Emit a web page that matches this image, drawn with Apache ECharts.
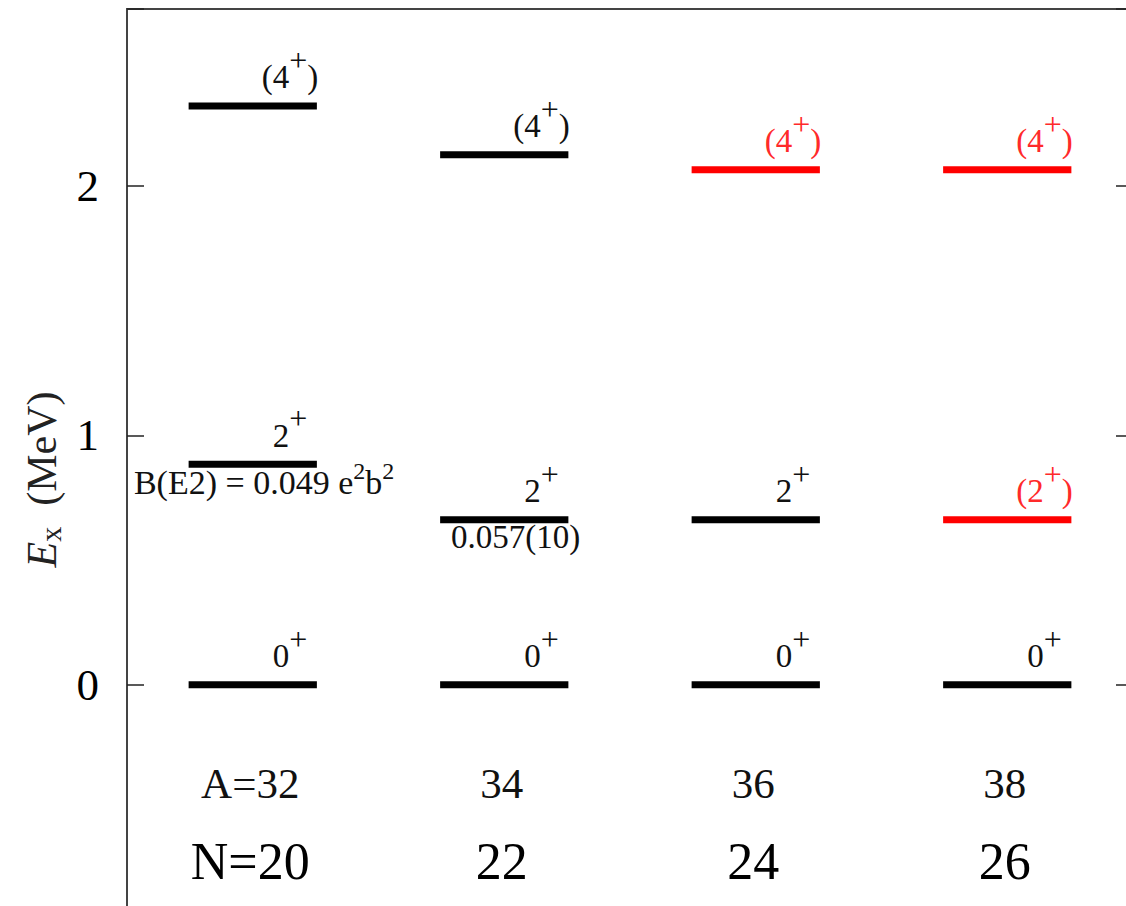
<!DOCTYPE html>
<html><head><meta charset="utf-8">
<script src="https://cdn.jsdelivr.net/npm/echarts@6/dist/echarts.min.js"></script>
<style>html,body{margin:0;padding:0;background:#fff}#c{width:1126px;height:906px}</style>
</head><body><div id="c"></div>
<script>
// ---- data ----
const massLabels = ['A=32', '34', '36', '38'];
const neutronLabels = ['N=20', '22', '24', '26'];
const groundEnergy = [0, 0, 0, 0];
const first2Energy = [0.884, 0.661, 0.661, 0.661];
const first4Energy = [2.321, 2.125, 2.065, 2.065];
const groundSpin = ['0+', '0+', '0+', '0+'];
const first2Spin = ['2+', '2+', '2+', '(2+)'];
const first4Spin = ['(4+)', '(4+)', '(4+)', '(4+)'];
const first2New = [false, false, false, true];
const first4New = [false, false, true, true];
const be2Labels = ['B(E2) = 0.049 e^2b^2', '0.057(10)', '', ''];
const yTicks = [0, 1, 2];

// ---- style constants ----
const FONT = 'Liberation Serif';
const BLACK = '#000000', RED = '#ff0000';
const TXT_BLACK = '#111111', TXT_RED = '#ff2a2a';
const HALF = 0.255;

const levels = [];
massLabels.forEach((m, i) => {
  levels.push({ x: i + 1, e: groundEnergy[i], spin: groundSpin[i], red: false, be2: '' });
  levels.push({ x: i + 1, e: first2Energy[i], spin: first2Spin[i], red: first2New[i], be2: be2Labels[i] });
  levels.push({ x: i + 1, e: first4Energy[i], spin: first4Spin[i], red: first4New[i], be2: '' });
});

function spinRich(s) {
  return s.split('+').map((p, k, arr) => (p ? '{b|' + p + '}' : '') + (k < arr.length - 1 ? '{s|+}' : '')).join('');
}
function be2Rich(s) {
  return s.split('^2').map((p, k, arr) => (p ? '{b|' + p + '}' : '') + (k < arr.length - 1 ? '{s|2}' : '')).join('');
}

function renderLevel(params, api) {
  const lv = levels[params.dataIndex];
  const x = api.value(0), e = api.value(1);
  const p0 = api.coord([x - HALF, e]);
  const p1 = api.coord([x + HALF, e]);
  const col = lv.red ? RED : BLACK;
  const tcol = lv.red ? TXT_RED : TXT_BLACK;
  const pl = api.coord([x + 0.148, e]);
  const children = [
    { type: 'line', shape: { x1: p0[0], y1: p0[1], x2: p1[0], y2: p1[1] },
      style: { stroke: col, lineWidth: 7 } },
    { type: 'text', x: pl[0], y: pl[1] - 12,
      style: { text: spinRich(lv.spin), align: 'center', verticalAlign: 'bottom', fill: tcol,
        rich: {
          b: { fontFamily: FONT, fontSize: 33, lineHeight: 50, verticalAlign: 'bottom', fill: tcol },
          s: { fontFamily: FONT, fontSize: 32, lineHeight: 28, verticalAlign: 'top', fill: tcol }
        } } }
  ];
  if (lv.be2) {
    const pb = api.coord([x + 0.045, e]);
    const hasSup = lv.be2.indexOf('^2') >= 0;
    children.push({ type: 'text', x: pb[0], y: pb[1] + (hasSup ? -5 : 0),
      style: { text: be2Rich(lv.be2), align: 'center', verticalAlign: 'top', fill: TXT_BLACK,
        rich: {
          b: { fontFamily: FONT, fontSize: hasSup ? 34 : 33, lineHeight: hasSup ? 40 : 34, verticalAlign: 'bottom', fill: TXT_BLACK },
          s: { fontFamily: FONT, fontSize: 24, lineHeight: 22, verticalAlign: 'top', fill: TXT_BLACK }
        } } });
  }
  return { type: 'group', children: children };
}

function renderNames(params, api) {
  const i = params.dataIndex;
  const x = api.value(0);
  const pa = api.coord([x - 0.01, -0.397]);
  const pn = api.coord([x - 0.01, -0.71]);
  return { type: 'group', children: [
    { type: 'text', x: pa[0], y: pa[1],
      style: { text: massLabels[i], fontFamily: FONT, fontSize: 43, fill: TXT_BLACK, align: 'center', verticalAlign: 'middle' } },
    { type: 'text', x: pn[0], y: pn[1],
      style: { text: neutronLabels[i], fontFamily: FONT, fontSize: 52, fill: '#000', align: 'center', verticalAlign: 'middle' } }
  ] };
}

const chart = echarts.init(document.getElementById('c'), null, { renderer: 'svg' });
chart.setOption({
  animation: false,
  backgroundColor: '#ffffff',
  grid: { left: 127, top: 9, width: 1006, height: 925, containLabel: false, outerBoundsMode: 'none',
    show: true, borderColor: '#444', borderWidth: 2, backgroundColor: 'transparent' },
  xAxis: { type: 'value', min: 0.5, max: 4.5, show: false },
  yAxis: [
    { type: 'value', min: -1, max: 2.71, interval: 1, position: 'left',
      axisLine: { show: false },
      axisTick: { show: true, inside: true, length: 17, lineStyle: { color: '#222', width: 1.5 } },
      axisLabel: { show: true, margin: 28, fontFamily: FONT, fontSize: 45, color: '#000',
        formatter: v => (yTicks.indexOf(v) >= 0 ? String(v) : '') },
      splitLine: { show: false },
      name: '{e|E}{x|x}{m|  (MeV)}',
      nameLocation: 'middle', nameGap: 62, nameRotate: 90,
      nameTextStyle: { padding: [0, 16, 0, 0],
        rich: {
          e: { fontFamily: FONT, fontSize: 42, fontStyle: 'italic', color: '#222', lineHeight: 44, verticalAlign: 'top' },
          x: { fontFamily: FONT, fontSize: 30, color: '#222', lineHeight: 30, verticalAlign: 'bottom' },
          m: { fontFamily: FONT, fontSize: 42, color: '#222', lineHeight: 44, verticalAlign: 'top' }
        } } },
    { type: 'value', min: -1, max: 2.71, interval: 1, position: 'right',
      axisLine: { show: false },
      axisTick: { show: true, inside: true, length: 17, lineStyle: { color: '#222', width: 1.5 } },
      axisLabel: { show: false }, splitLine: { show: false } }
  ],
  series: [
    { type: 'custom', renderItem: renderLevel, clip: false,
      data: levels.map(l => [l.x, l.e]) },
    { type: 'custom', renderItem: renderNames, clip: false,
      data: massLabels.map((m, i) => [i + 1, 0]) }
  ]
});
</script>
</body></html>
